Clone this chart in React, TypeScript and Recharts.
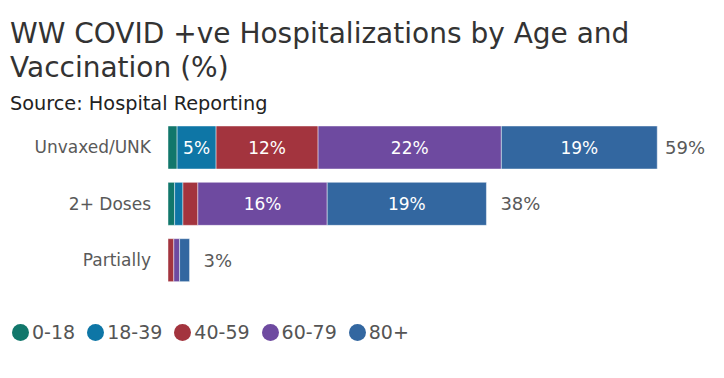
import { BarChart, Bar, XAxis, YAxis, LabelList, Legend } from 'recharts';

const categories = ['Unvaxed/UNK', '2+ Doses', 'Partially'];
const age0to18 = [1.1, 0.8, 0];
const age18to39 = [4.7, 1.0, 0];
const age40to59 = [12.3, 1.8, 0.7];
const age60to79 = [22.1, 15.6, 0.7];
const age80plus = [18.8, 19.2, 1.2];
const seriesNames = ['0-18', '18-39', '40-59', '60-79', '80+'];
const seriesColors = ['#11776b', '#0e76a6', '#a3343e', '#6e4aa0', '#3367a0'];

const seriesValues = [age0to18, age18to39, age40to59, age60to79, age80plus];
const totals = categories.map((_, i) => seriesValues.reduce((s, arr) => s + arr[i], 0));

const chartData = categories.map((name, i) => {
  const row: Record<string, string | number> = { name };
  seriesNames.forEach((s, k) => {
    row[s] = seriesValues[k][i];
  });
  return row;
});

const FONT = '"DejaVu Sans", Verdana, sans-serif';
const W = 724;
const H = 378;

const segmentLabel = (v: unknown) => {
  const n = Number(v);
  return n >= 4 ? `${Math.round(n)}%` : '';
};

function TotalLabel(props: any) {
  const { x, y, width, height, index } = props;
  const end = Number(x) + Number(width);
  const tx = Math.min(end + 14, W - 59);
  return (
    <text
      x={tx}
      y={Number(y) + Number(height) / 2}
      dominantBaseline="central"
      fill="#595959"
      fontSize={18}
      fontFamily={FONT}
    >
      {`${Math.round(totals[index])}%`}
    </text>
  );
}

function LegendContent() {
  return (
    <div style={{ display: 'flex', alignItems: 'center', fontFamily: FONT, fontSize: 19, color: '#555' }}>
      {seriesNames.map((s, k) => (
        <div key={s} style={{ display: 'flex', alignItems: 'center', marginRight: 12 }}>
          <span
            style={{
              display: 'inline-block',
              width: 17,
              height: 17,
              borderRadius: '50%',
              background: seriesColors[k],
              marginRight: 3,
            }}
          />
          <span>{s}</span>
        </div>
      ))}
    </div>
  );
}

export default function App() {
  return (
    <div style={{ position: 'relative', width: W, height: H, background: '#fff', overflow: 'hidden' }}>
      <style>{'body{margin:0}'}</style>
      <svg width={W} height={H} style={{ position: 'absolute', left: 0, top: 0 }}>
        <text x={10} y={43} fontSize={28} fill="#333" fontFamily={FONT}>
          WW COVID +ve Hospitalizations by Age and
        </text>
        <text x={10} y={77} fontSize={28} fill="#333" fontFamily={FONT}>
          Vaccination (%)
        </text>
        <text x={10} y={110} fontSize={19.3} fill="#222" fontFamily={FONT}>
          Source: Hospital Reporting
        </text>
      </svg>
      <div style={{ position: 'absolute', left: 0, top: 0 }}>
        <BarChart
          width={W}
          height={H}
          data={chartData}
          layout="vertical"
          margin={{ top: 119, right: 17, bottom: 68, left: 0 }}
        >
          <XAxis type="number" domain={[0, 65]} hide />
          <YAxis
            type="category"
            dataKey="name"
            width={168}
            axisLine={false}
            tickLine={false}
            tickMargin={11}
            tick={{ fill: '#595959', fontSize: 17, fontFamily: FONT }}
          />
          <Legend
            content={<LegendContent />}
            wrapperStyle={{ position: 'absolute', left: 12, top: 321, width: 'auto' }}
          />
          {seriesNames.map((s, k) => (
            <Bar
              key={s}
              dataKey={s}
              stackId="a"
              fill={seriesColors[k]}
              stroke="rgba(255,255,255,0.45)"
              strokeWidth={1}
              barSize={43}
              isAnimationActive={false}
            >
              <LabelList
                dataKey={s}
                position="center"
                formatter={segmentLabel}
                fill="#fff"
                fontSize={17}
                fontFamily={FONT}
              />
              {k === seriesNames.length - 1 && <LabelList dataKey={s} content={<TotalLabel />} />}
            </Bar>
          ))}
        </BarChart>
      </div>
    </div>
  );
}
